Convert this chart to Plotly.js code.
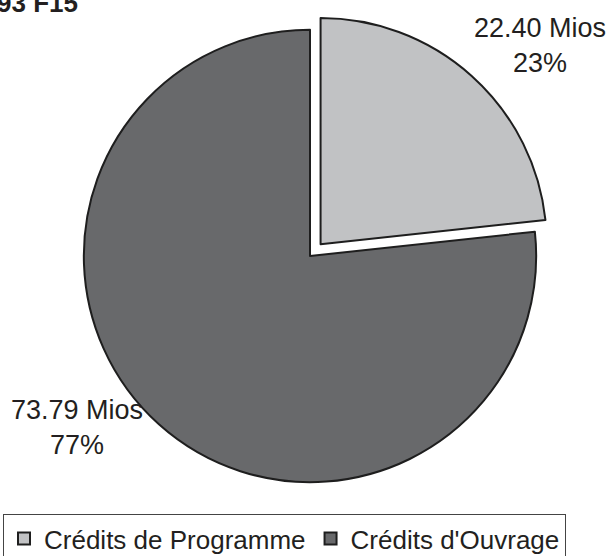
<!DOCTYPE html>
<html>
<head>
<meta charset="utf-8">
<script src="https://cdn.plot.ly/plotly-3.0.1.min.js"></script>
<style>html,body{margin:0;padding:0;background:#fff;}#chart{width:610px;height:556px;}</style>
</head>
<body>
<div id="chart"></div>
<script>
var labels = ['Crédits de Programme', "Crédits d'Ouvrage"];
var values = [22.40, 73.79];
var pulls = [0.07, 0];
var colors = ['#c1c2c4', '#68696b'];
var unit = 'Mios';
var titleText = '93 F15';

var total = values.reduce(function(a, b) { return a + b; }, 0);
var labelTexts = values.map(function(v) {
  return v.toFixed(2) + ' ' + unit + '<br>' + Math.round(v / total * 100) + '%';
});

var W = 610, H = 556;
function px(x) { return x / W; }
function py(y) { return 1 - y / H; }

var labelPos = [[540, 45.5], [77, 427.5]];
var FONT = 'Liberation Sans, Arial, sans-serif';

var annotations = labelTexts.map(function(t, i) {
  return {
    text: t, xref: 'paper', yref: 'paper',
    x: px(labelPos[i][0]), y: py(labelPos[i][1]),
    xanchor: 'center', yanchor: 'middle', showarrow: false,
    font: {family: FONT, size: 27, color: '#231f20'}
  };
});
annotations.push({
  text: '<b>' + titleText + '</b>', xref: 'paper', yref: 'paper',
  x: px(80), y: py(20), xanchor: 'right', yanchor: 'bottom', showarrow: false,
  font: {family: FONT, size: 26, color: '#231f20'}
});

var trace = {
  type: 'pie',
  labels: labels,
  values: values,
  pull: pulls,
  sort: false,
  direction: 'clockwise',
  rotation: 0,
  textinfo: 'none',
  hoverinfo: 'label+value+percent',
  marker: {colors: colors, line: {color: '#1e1e1e', width: 2}},
  domain: {x: [px(68), px(552)], y: [py(498), py(14)]}
};

var layout = {
  width: W, height: H,
  margin: {l: 0, r: 0, t: 0, b: 0, autoexpand: false},
  paper_bgcolor: '#ffffff',
  showlegend: true,
  legend: {
    orientation: 'h', x: px(3), y: py(514), xanchor: 'left', yanchor: 'top',
    bgcolor: '#ffffff', bordercolor: '#444', borderwidth: 1,
    font: {family: FONT, size: 26, color: '#231f20'},
    traceorder: 'normal'
  },
  annotations: annotations
};

Plotly.newPlot('chart', [trace], layout, {displayModeBar: false, staticPlot: true});
</script>
</body>
</html>
